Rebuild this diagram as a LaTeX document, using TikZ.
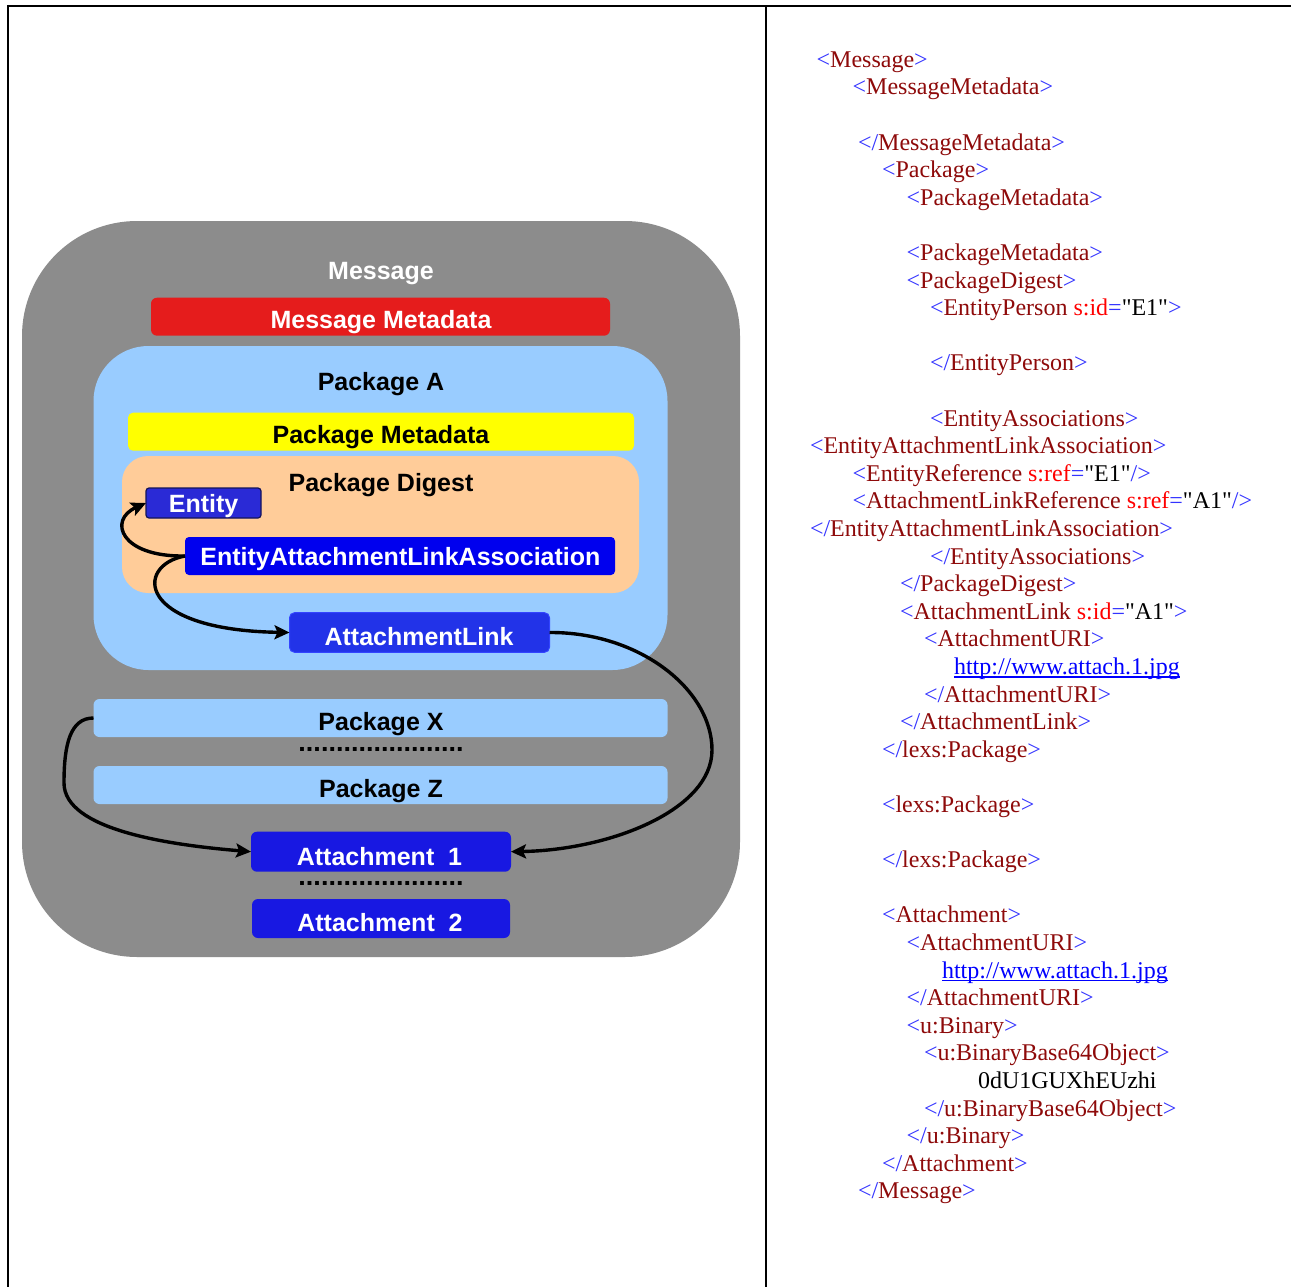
\documentclass[tikz,border=0pt]{standalone}
\usepackage{fontspec}
\setmainfont{Liberation Serif}[Ligatures=TeXOff]
\newfontfamily\diagfont{Liberation Sans}
\usetikzlibrary{arrows.meta,calc}
\definecolor{msggray}{HTML}{8C8C8C}
\definecolor{metared}{HTML}{E51C1C}
\definecolor{pkgblue}{HTML}{99CCFF}
\definecolor{pkgyellow}{HTML}{FFFF00}
\definecolor{peach}{HTML}{FFCC99}
\definecolor{entblue}{HTML}{2A2AD6}
\definecolor{entborder}{HTML}{14145A}
\definecolor{ealablue}{HTML}{0000EE}
\definecolor{alblue}{HTML}{2233E8}
\definecolor{alborder}{HTML}{3344FF}
\definecolor{attblue}{HTML}{1818E2}
\definecolor{xbl}{HTML}{3333FF}
\definecolor{xdr}{HTML}{8E0A0A}
\definecolor{xrd}{HTML}{FF0000}
\definecolor{xurl}{HTML}{0000FF}
\newcommand\xT[1]{\textcolor{xbl}{<}\textcolor{xdr}{#1}\textcolor{xbl}{>}}
\newcommand\xE[1]{\textcolor{xbl}{</}\textcolor{xdr}{#1}\textcolor{xbl}{>}}
\newcommand\xO[1]{\textcolor{xbl}{<}\textcolor{xdr}{#1}}
\newcommand\xA[2]{\ \textcolor{xrd}{#1}\textcolor{xbl}{=}"#2"}
\begin{document}
\begin{tikzpicture}[x=1pt,y=-1pt,
  box/.style={inner sep=0pt, outer sep=0pt},
  lab/.style={font=\diagfont\bfseries\fontsize{25}{30}\selectfont, anchor=base, inner sep=0pt, outer sep=0pt},
  wlab/.style={lab, text=white},
  blab/.style={lab, text=black},
  dotrow/.style={font=\diagfont\bfseries\fontsize{27}{30}\selectfont, anchor=base, inner sep=0pt, outer sep=0pt, text=black},
  xml/.style={anchor=base west, inner sep=0pt, outer sep=0pt, font=\fontsize{24}{28}\selectfont},
  link/.style={line width=3.4pt, -{Stealth[length=15pt,width=14pt,inset=3pt]}},
  rule/.style={line width=2pt, black},
]
\useasboundingbox (0,0) rectangle (1291,1287);
\fill[white] (0,0) rectangle (1291,1287);

% table frame
\coordinate (tl) at (7,6);
\coordinate (tr) at (1291,6);
\coordinate (lt) at (8,5);
\coordinate (bl) at (8,1287);
\coordinate (mt) at (766,6);
\coordinate (mb) at (766,1287);
\draw[rule] (tl) -- (tr);
\draw[rule] (lt) -- (bl);
\draw[rule] (mt) -- (mb);

% ---------------- left diagram ----------------
\node[box, fill=msggray, rounded corners=115pt, minimum width=718pt, minimum height=736pt] (msg) at (381,589) {};
\node[wlab] (msgl) at (381,279.3) {Message};

\node[box, fill=metared, rounded corners=6pt, minimum width=459pt, minimum height=38pt] (mmeta) at (380.5,316.7) {};
\node[wlab] (mmetal) at (381,328.3) {Message Metadata};

\node[box, fill=pkgblue, rounded corners=55pt, minimum width=574pt, minimum height=324pt] (pkga) at (380.5,508) {};
\node[blab] (pkgal) at (381,390.7) {Package A};

\node[box, fill=pkgyellow, rounded corners=5pt, minimum width=506pt, minimum height=38pt] (pmeta) at (381,431.7) {};
\node[blab] (pmetal) at (381,443.3) {Package Metadata};

\node[box, fill=peach, rounded corners=26pt, minimum width=517pt, minimum height=137pt] (pdig) at (380.5,524.5) {};
\node[blab] (pdigl) at (381,491) {Package Digest};

\node[box, fill=entblue, draw=entborder, line width=1.2pt, rounded corners=3pt, minimum width=115pt, minimum height=30pt] (ent) at (203.5,503) {};
\node[wlab] (entl) at (203.6,512) {Entity};

\node[box, fill=ealablue, rounded corners=4pt, minimum width=430pt, minimum height=38pt] (eala) at (400,556) {};
\node[wlab] (ealal) at (400.4,565.5) {EntityAttachmentLinkAssociation};

\node[box, fill=alblue, draw=alborder, line width=1pt, rounded corners=5pt, minimum width=260pt, minimum height=39.6pt] (alink) at (419.5,632.5) {};
\node[wlab] (alinkl) at (419,645.5) {AttachmentLink};

\node[box, fill=pkgblue, rounded corners=6pt, minimum width=574pt, minimum height=38pt] (pkgx) at (380.5,718) {};
\node[blab] (pkgxl) at (381,730.5) {Package X};
\node[dotrow] (dots1) at (381,751) {......................};
\node[box, fill=pkgblue, rounded corners=6pt, minimum width=574pt, minimum height=38pt] (pkgz) at (380.5,785) {};
\node[blab] (pkgzl) at (381,797) {Package Z};

\node[box, fill=attblue, rounded corners=6pt, minimum width=260pt, minimum height=40pt] (att1) at (381,851.7) {};
\node[wlab] (att1l) at (379.5,865.5) {Attachment\ \ 1};
\node[dotrow] (dots2) at (381,885.5) {......................};
\node[box, fill=attblue, rounded corners=6pt, minimum width=258pt, minimum height=39pt] (att2) at (381,918.5) {};
\node[wlab] (att2l) at (380,931) {Attachment\ \ 2};

% connectors
\draw[link] (eala.west) .. controls (120,557) and (108,520) .. (ent.west);
\draw[link] (eala.west) .. controls (135,565) and (135,630) .. (alink.west);
\draw[link] (alink.east) .. controls (640,632) and (712,690) .. (712,750)
                          .. controls (712,810) and (610,850) .. (att1.east);
\draw[link] (pkgx.west) .. controls (70,718) and (64,745) .. (64,783)
                         .. controls (64,830) and (170,845) .. (att1.west);

% ---------------- right XML ----------------
\def\bl#1{67.3+27.6*#1}
\node[xml] (x0)  at (816.7,{\bl{0}})  {\xT{Message}};
\node[xml] (x1)  at (852.7,{\bl{1}})  {\xT{MessageMetadata}};
\node[xml] (x3)  at (858,{\bl{3}})    {\xE{MessageMetadata}};
\node[xml] (x4)  at (882,{\bl{4}})    {\xT{Package}};
\node[xml] (x5)  at (906.7,{\bl{5}})  {\xT{PackageMetadata}};
\node[xml] (x7)  at (906.7,{\bl{7}})  {\xT{PackageMetadata}};
\node[xml] (x8)  at (906.7,{\bl{8}})  {\xT{PackageDigest}};
\node[xml] (x9)  at (930,{\bl{9}})    {\xO{EntityPerson}\xA{s:id}{E1}\textcolor{xbl}{>}};
\node[xml] (x11) at (930,{\bl{11}})   {\xE{EntityPerson}};
\node[xml] (x13) at (930,{\bl{13}})   {\xT{EntityAssociations}};
\node[xml] (x14) at (810,{\bl{14}})   {\xT{EntityAttachmentLinkAssociation}};
\node[xml] (x15) at (852.7,{\bl{15}}) {\xO{EntityReference}\xA{s:ref}{E1}\textcolor{xbl}{/>}};
\node[xml] (x16) at (852.7,{\bl{16}}) {\xO{AttachmentLinkReference}\xA{s:ref}{A1}\textcolor{xbl}{/>}};
\node[xml] (x17) at (810,{\bl{17}})   {\xE{EntityAttachmentLinkAssociation}};
\node[xml] (x18) at (930,{\bl{18}})   {\xE{EntityAssociations}};
\node[xml] (x19) at (900,{\bl{19}})   {\xE{PackageDigest}};
\node[xml] (x20) at (900,{\bl{20}})   {\xO{AttachmentLink}\xA{s:id}{A1}\textcolor{xbl}{>}};
\node[xml] (x21) at (924,{\bl{21}})   {\xT{AttachmentURI}};
\node[xml, text=xurl] (x22) at (954,{\bl{22}}) {http://www.attach.1.jpg};
\draw[xurl, line width=1.4pt] ($(x22.base west)+(0,2.6)$) -- ($(x22.base east)+(0,2.6)$);
\node[xml] (x23) at (924,{\bl{23}})   {\xE{AttachmentURI}};
\node[xml] (x24) at (900,{\bl{24}})   {\xE{AttachmentLink}};
\node[xml] (x25) at (882,{\bl{25}})   {\xE{lexs:Package}};
\node[xml] (x27) at (882,{\bl{27}})   {\xT{lexs:Package}};
\node[xml] (x29) at (882,{\bl{29}})   {\xE{lexs:Package}};
\node[xml] (x31) at (882,{\bl{31}})   {\xT{Attachment}};
\node[xml] (x32) at (906.7,{\bl{32}}) {\xT{AttachmentURI}};
\node[xml, text=xurl] (x33) at (942,{\bl{33}}) {http://www.attach.1.jpg};
\draw[xurl, line width=1.4pt] ($(x33.base west)+(0,2.6)$) -- ($(x33.base east)+(0,2.6)$);
\node[xml] (x34) at (906.7,{\bl{34}}) {\xE{AttachmentURI}};
\node[xml] (x35) at (906.7,{\bl{35}}) {\xT{u:Binary}};
\node[xml] (x36) at (924,{\bl{36}})   {\xT{u:BinaryBase64Object}};
\node[xml] (x37) at (978,{\bl{37}})   {0dU1GUXhEUzhi};
\node[xml] (x38) at (924,{\bl{38}})   {\xE{u:BinaryBase64Object}};
\node[xml] (x39) at (906.7,{\bl{39}}) {\xE{u:Binary}};
\node[xml] (x40) at (882,{\bl{40}})   {\xE{Attachment}};
\node[xml] (x41) at (858,{\bl{41}})   {\xE{Message}};
\end{tikzpicture}
\end{document}
